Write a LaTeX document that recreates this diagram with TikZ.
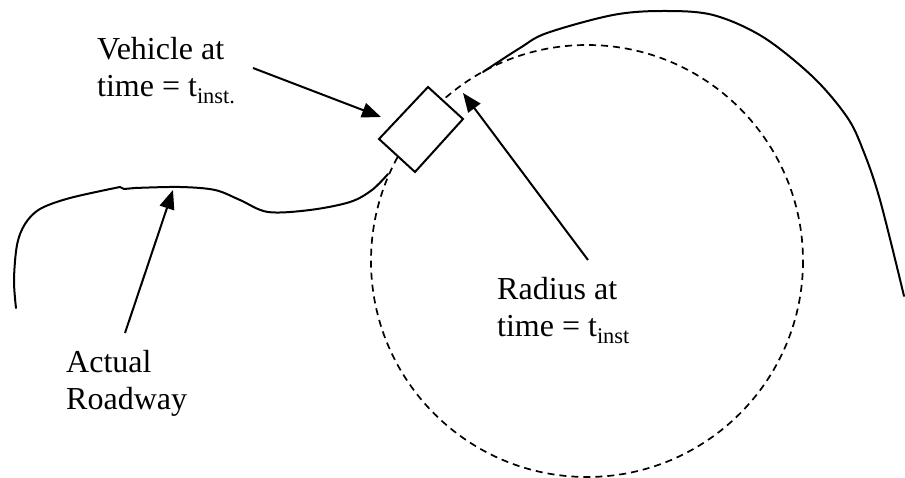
\documentclass[tikz,border=0pt]{standalone}
\usepackage{fontspec}
\setmainfont{Liberation Serif}
\usetikzlibrary{arrows.meta}
\begin{document}
\begin{tikzpicture}[x=1pt,y=-1pt,
  road/.style={line width=2pt, line cap=round, line join=round},
  circ/.style={line width=1.7pt, dash pattern=on 7pt off 5pt},
  pointer/.style={line width=2pt, -{Triangle[length=19pt,width=15pt]}},
  lbl/.style={font=\fontsize{32}{37}\selectfont, align=left, anchor=base west, inner sep=0pt}]
\useasboundingbox (0,0) rectangle (905,478);
% dashed circle of instantaneous radius
\draw[circ] (587,261) circle[radius=216];
% actual roadway, left part
\draw[road] plot[smooth, tension=0.55] coordinates {(16,308) (14,280) (17,245) (25,224) (40,209) (70,198) (120,187)}
  -- (124,189) -- (135,188)
  plot[smooth, tension=0.55] coordinates {(135,188) (180,187) (215,190) (240,200) (268,212) (310,210) (350,202) (372,190) (388,174)};
% actual roadway, right part
\draw[road] plot[smooth, tension=0.55] coordinates {(483,72) (520,48) (547,33) (613,15) (663,11) (713,15) (763,37) (813,77) (847,117) (863,150) (880,200) (904,296)};
% vehicle
\coordinate (vt) at (428,87);
\coordinate (vr) at (463,119);
\coordinate (vb) at (415,172);
\coordinate (vl) at (379,139);
\draw[line width=2pt, fill=white, line join=miter] (vt) -- (vr) -- (vb) -- (vl) -- cycle;
% labels
\node[lbl] (veh) at (97,97) {Vehicle at\\time = t\textsubscript{inst.}};
\node[lbl] (rad) at (497,337) {Radius at\\time = t\textsubscript{inst}};
\node[lbl] (act) at (66,409) {Actual\\Roadway};
% pointers
\coordinate (vehA) at (253,68);
\coordinate (vehB) at (381,117);
\coordinate (radA) at (588,260);
\coordinate (radB) at (463,93);
\coordinate (actA) at (125,333);
\coordinate (actB) at (173,190);
\draw[pointer] (vehA) -- (vehB);
\draw[pointer] (radA) -- (radB);
\draw[pointer] (actA) -- (actB);
\end{tikzpicture}
\end{document}
